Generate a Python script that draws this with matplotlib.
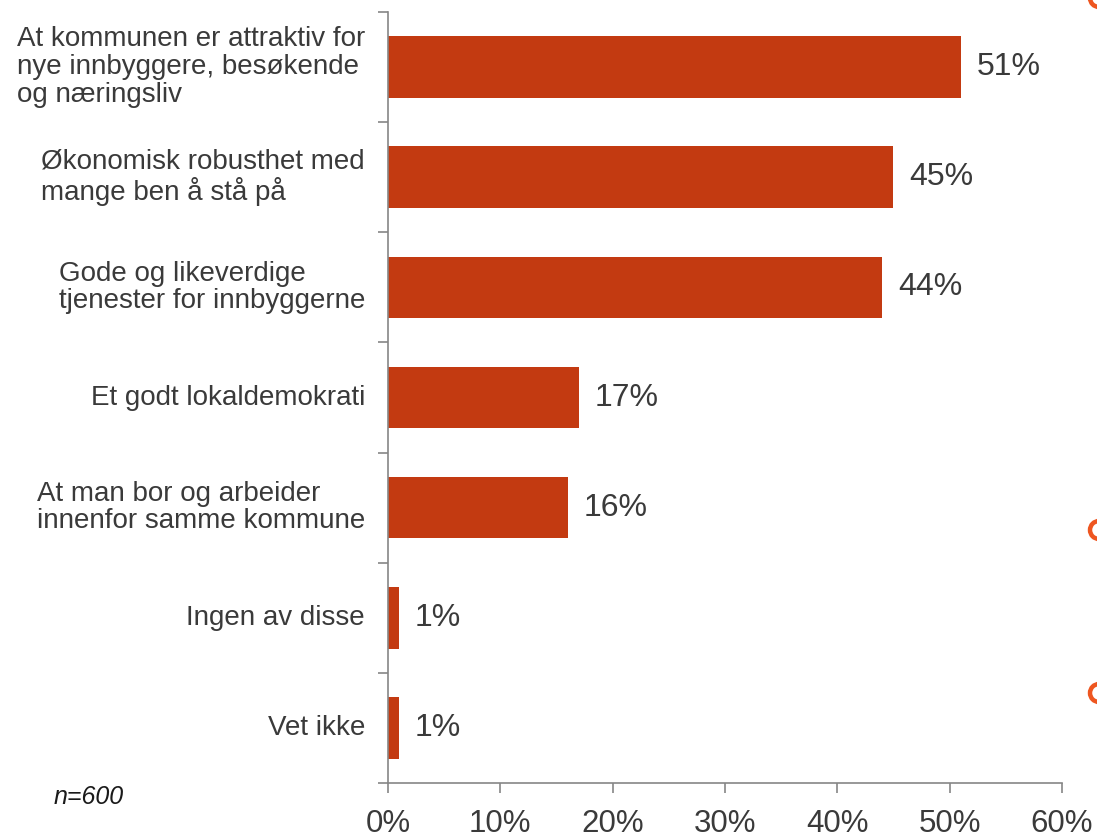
import numpy as np
import matplotlib.pyplot as plt
from matplotlib.patches import Circle

categories = ['At kommunen er attraktiv for\nnye innbyggere, besøkende\nog næringsliv',
              'Økonomisk robusthet med\nmange ben å stå på',
              'Gode og likeverdige\ntjenester for innbyggerne',
              'Et godt lokaldemokrati',
              'At man bor og arbeider\ninnenfor samme kommune',
              'Ingen av disse',
              'Vet ikke']
values = [51, 45, 44, 17, 16, 1, 1]
xticks = [0, 10, 20, 30, 40, 50, 60]

plt.rcParams['font.family'] = ['Liberation Sans', 'DejaVu Sans']
txt = '#3a3a3a'
grey = '#868686'

fig = plt.figure(figsize=(10.97, 8.38), dpi=100)
ax = fig.add_axes([0.3537, 0.0656, 0.968 - 0.3537, 0.9857 - 0.0656])

y = np.arange(len(categories))
ax.barh(y, values, height=0.56, color='#C33A11')
for yi, v in zip(y, values):
    ax.text(v + 1.4, yi, f'{v}%', va='center', ha='left', fontsize=23, color=txt)

ax.set_ylim(len(categories) - 0.5, -0.5)
ax.set_xlim(0, 60)
ax.set_xticks(xticks)
ax.set_xticklabels([f'{t}%' for t in xticks], fontsize=22.5, color=txt)
ax.set_yticks([])
ax.set_yticks(np.arange(len(categories) + 1) - 0.5, minor=True)
ax.tick_params(axis='y', which='minor', length=7, color=grey, width=1.2)
ax.tick_params(axis='x', length=7, color=grey, width=1.2, pad=12)

for yi, c in zip(y, categories):
    ax.text(-2.05, yi, c, ha='right', va='center', multialignment='left',
            fontsize=20, color=txt, linespacing=1.08)

for s in ['top', 'right']:
    ax.spines[s].set_visible(False)
for s in ['left', 'bottom']:
    ax.spines[s].set_color(grey)
    ax.spines[s].set_linewidth(1.2)

fig.text(54 / 1097, 1 - 797 / 838, 'n=600', fontsize=18, style='italic',
         color='#1a1a1a', va='center', ha='left')

# decorative rings at the right edge
for cy in [-2, 530, 693]:
    fig.patches.append(Circle((1099, 838 - cy), 9, transform=None, fill=False,
                              edgecolor='#EE5620', linewidth=3.2))

fig.savefig('out.png', dpi=100)
